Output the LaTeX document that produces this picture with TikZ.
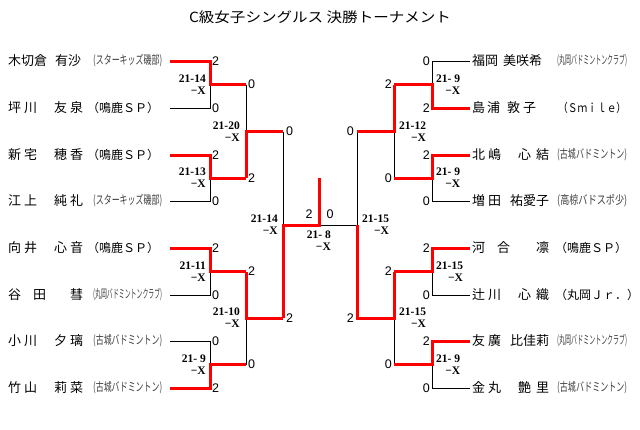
\documentclass[tikz,border=0pt]{standalone}
\usepackage{fontspec}
\usepackage{graphicx}
\setmainfont{Liberation Serif}
\newfontfamily\jpf{Noto Sans CJK JP}
\newfontfamily\scf{Liberation Sans}
\usetikzlibrary{positioning}
\newcommand\lnm[2]{\hbox to 75pt{#1\hfil #2}}
\newcommand\rnm[2]{\hbox to 77pt{#1\hfil #2}}
\newcommand\cnd[2]{\resizebox{#1}{\height}{#2}}
\begin{document}
\begin{tikzpicture}[x=1pt,y=-1pt,
  win/.style={draw=red,line width=3pt},
  lose/.style={draw=black,line width=0.9pt},
  sc/.style={font=\scf\fontsize{12.5}{12.5}\selectfont,inner sep=0pt},
  lbl/.style={font=\bfseries\fontsize{11.5}{12}\selectfont,align=right,inner sep=0pt},
  nm/.style={font=\jpf\fontsize{13}{13}\selectfont,inner sep=0pt,anchor=west},
  club/.style={font=\jpf\fontsize{12}{12}\selectfont,inner sep=0pt,anchor=west},
  cclub/.style={club,text=black!75},
  ttl/.style={font=\jpf\fontsize{14}{14}\selectfont,inner sep=0pt}]
\fill[white] (0,0) rectangle (640,429);
\useasboundingbox (0,0) rectangle (640,429);

% title
\node[ttl] (title) at (320,17) {\resizebox{262pt}{\height}{C級女子シングルス\ 決勝トーナメント}};

% ---------- left players ----------
\node[nm] (p1) at (8,61)  {\hbox to 73pt{木切倉\hfil 有沙}};
\node[cclub] (q1) at (93,61) {\cnd{69pt}{(スターキッズ磯部)}};
\node[nm] (p2) at (8,108) {\lnm{坪\kern3pt 川}{友\kern3pt 泉}};
\node[club] (q2) at (87,108) {（鳴鹿ＳＰ）};
\node[nm] (p3) at (8,155) {\lnm{新\kern3pt 宅}{穂\kern3pt 香}};
\node[club] (q3) at (87,155) {（鳴鹿ＳＰ）};
\node[nm] (p4) at (8,201) {\lnm{江\kern3pt 上}{純\kern3pt 礼}};
\node[cclub] (q4) at (93,201) {\cnd{69pt}{(スターキッズ磯部)}};
\node[nm] (p5) at (8,248) {\lnm{向\kern3pt 井}{心\kern3pt 音}};
\node[club] (q5) at (87,248) {（鳴鹿ＳＰ）};
\node[nm] (p6) at (8,295) {\lnm{谷\kern12pt 田}{彗}};
\node[cclub] (q6) at (93,295) {\cnd{69pt}{(丸岡バドミントンクラブ)}};
\node[nm] (p7) at (8,341) {\lnm{小\kern3pt 川}{夕\kern3pt 璃}};
\node[cclub] (q7) at (93,341) {\cnd{69pt}{(古城バドミントン)}};
\node[nm] (p8) at (8,388) {\lnm{竹\kern3pt 山}{莉\kern3pt 菜}};
\node[cclub] (q8) at (93,388) {\cnd{69pt}{(古城バドミントン)}};

% ---------- right players ----------
\node[nm] (p9)  at (472,61)  {\hbox to 70pt{福岡\hfil 美咲希}};
\node[cclub] (q9) at (557,61) {\cnd{70pt}{(丸岡バドミントンクラブ)}};
\node[nm] (p10) at (472,108) {\hbox to 64pt{島\kern2pt 浦\hfil 敦\kern3pt 子}};
\node[club] (q10) at (558,108) {\cnd{68pt}{（Ｓｍｉｌｅ）}};
\node[nm] (p11) at (472,155) {\rnm{北\kern3pt 嶋}{心\kern5pt 結}};
\node[cclub] (q11) at (557,155) {\cnd{70pt}{(古城バドミントン)}};
\node[nm] (p12) at (472,201) {\rnm{増\kern3pt 田}{祐愛子}};
\node[cclub] (q12) at (557,201) {\cnd{70pt}{(高椋バドスポ少)}};
\node[nm] (p13) at (472,248) {\rnm{河\kern12pt 合}{凛}};
\node[club] (q13) at (555,248) {（鳴鹿ＳＰ）};
\node[nm] (p14) at (472,295) {\rnm{辻\kern3pt 川}{心\kern5pt 織}};
\node[club] (q14) at (555,295) {（丸岡Ｊｒ．）};
\node[nm] (p15) at (472,341) {\rnm{友\kern3pt 廣}{比佳莉}};
\node[cclub] (q15) at (557,341) {\cnd{70pt}{(丸岡バドミントンクラブ)}};
\node[nm] (p16) at (472,388) {\rnm{金\kern3pt 丸}{艶\kern5pt 里}};
\node[cclub] (q16) at (557,388) {\cnd{70pt}{(古城バドミントン)}};

% ---------- coordinates ----------
\foreach \i/\y in {1/61,2/108,3/155,4/201,5/248,6/295,7/341,8/388}{
  \coordinate (s\i) at (170,\y);
  \coordinate (c\i) at (210,\y);
}
\foreach \i/\y in {9/61,10/108,11/155,12/201,13/248,14/295,15/341,16/388}{
  \coordinate (s\i) at (470,\y);
  \coordinate (c\i) at (432,\y);
}
\foreach \k/\y in {1/84.5,2/178,3/271.5,4/364.5}{
  \coordinate (j\k) at (210,\y);
  \coordinate (k\k) at (246,\y);
}
\foreach \k/\y in {5/84.5,6/178,7/271.5,8/364.5}{
  \coordinate (j\k) at (432,\y);
  \coordinate (k\k) at (394,\y);
}
\coordinate (m1) at (246,131.5);
\coordinate (m2) at (246,318);
\coordinate (n1) at (283,131.5);
\coordinate (n2) at (283,318);
\coordinate (f1) at (283,225);
\coordinate (t)  at (319,225);
\coordinate (u)  at (319,178);
\coordinate (f2) at (357,225);
\coordinate (n3) at (357,131.5);
\coordinate (n4) at (357,318);
\coordinate (m3) at (394,131.5);
\coordinate (m4) at (394,318);

% ---------- black (losing) lines ----------
\draw[lose] (s2) -- (c2) -- (j1);
\draw[lose] (s4) -- (c4) -- (j2);
\draw[lose] (s6) -- (c6) -- (j3);
\draw[lose] (s7) -- (c7) -- (j4);
\draw[lose] (k1) -- (m1);
\draw[lose] (k4) -- (m2);
\draw[lose] (n1) -- (f1);
\draw[lose] (t) -- (f2);
\draw[lose] (n3) -- (f2);
\draw[lose] (k6) -- (m3);
\draw[lose] (k8) -- (m4);
\draw[lose] (s9) -- (c9) -- (j5);
\draw[lose] (s12) -- (c12) -- (j6);
\draw[lose] (s14) -- (c14) -- (j7);
\draw[lose] (s16) -- (c16) -- (j8);

% ---------- red (winning) lines ----------
\draw[win] (s1) -- (c1) -- (j1) -- (k1);
\draw[win] (s3) -- (c3) -- (j2) -- (k2);
\draw[win] (s5) -- (c5) -- (j3) -- (k3);
\draw[win] (s8) -- (c8) -- (j4) -- (k4);
\draw[win] (k2) -- (m1) -- (n1);
\draw[win] (k3) -- (m2) -- (n2);
\draw[win] (n2) -- (f1) -- (t) -- (u);
\draw[win] (k7) -- (m4) -- (n4) -- (f2);
\draw[win] (k5) -- (m3) -- (n3);
\draw[win] (s10) -- (c10) -- (j5) -- (k5);
\draw[win] (s11) -- (c11) -- (j6) -- (k6);
\draw[win] (s13) -- (c13) -- (j7) -- (k7);
\draw[win] (s15) -- (c15) -- (j8) -- (k8);

% ---------- scores ----------
\node[sc,right=2pt of c1] (a1) {2};
\node[sc,right=2pt of c2] (a2) {0};
\node[sc,right=2pt of c3] (a3) {2};
\node[sc,right=2pt of c4] (a4) {0};
\node[sc,right=2pt of c5] (a5) {2};
\node[sc,right=2pt of c6] (a6) {0};
\node[sc,right=2pt of c7] (a7) {0};
\node[sc,right=2pt of c8] (a8) {2};
\node[sc,right=2pt of k1] (b1) {0};
\node[sc,right=2pt of k2] (b2) {2};
\node[sc,right=2pt of k3] (b3) {2};
\node[sc,right=2pt of k4] (b4) {0};
\node[sc,right=3pt of n1] (d1) {0};
\node[sc,right=3pt of n2] (d2) {2};
\node[sc] (e1) at (309,214) {2};
\node[sc] (e2) at (330,214) {0};
\node[sc,left=3pt of n3] (d3) {0};
\node[sc,left=3pt of n4] (d4) {2};
\node[sc,left=2pt of k5] (b5) {2};
\node[sc,left=2pt of k6] (b6) {0};
\node[sc,left=2pt of k7] (b7) {2};
\node[sc,left=2pt of k8] (b8) {0};
\node[sc,left=2pt of c9]  (a9)  {0};
\node[sc,left=2pt of c10] (a10) {2};
\node[sc,left=2pt of c11] (a11) {2};
\node[sc,left=2pt of c12] (a12) {0};
\node[sc,left=2pt of c13] (a13) {2};
\node[sc,left=2pt of c14] (a14) {0};
\node[sc,left=2pt of c15] (a15) {2};
\node[sc,left=2pt of c16] (a16) {0};

% ---------- match results ----------
\node[lbl,left=4pt of j1] (r1) {21-14\\−X};
\node[lbl,left=4pt of j2] (r2) {21-13\\−X};
\node[lbl,left=4pt of j3] (r3) {21-11\\−X};
\node[lbl,left=4pt of j4] (r4) {21-\ 9\\−X};
\node[lbl,left=6pt of m1] (r5) {21-20\\−X};
\node[lbl,left=6pt of m2] (r6) {21-10\\−X};
\node[lbl,left=5pt of f1] (r7) {21-14\\−X};
\node[lbl,anchor=north east] (r8) at (331,231) {21-\ 8\\−X};
\node[lbl,right=5pt of f2] (r9) {21-15\\−X};
\node[lbl,right=5pt of m3] (r10) {21-12\\−X};
\node[lbl,right=5pt of m4] (r11) {21-15\\−X};
\node[lbl,right=4pt of j5] (r12) {21-\ 9\\−X};
\node[lbl,right=4pt of j6] (r13) {21-\ 9\\−X};
\node[lbl,right=4pt of j7] (r14) {21-15\\−X};
\node[lbl,right=4pt of j8] (r15) {21-\ 9\\−X};
\end{tikzpicture}
\end{document}
